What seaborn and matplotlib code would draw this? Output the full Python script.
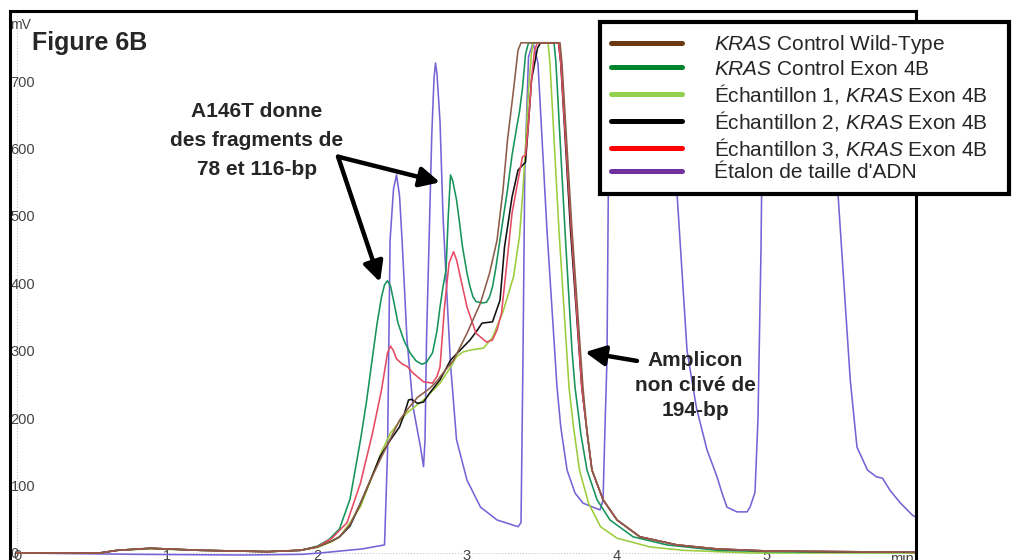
import matplotlib
matplotlib.use("Agg")
import matplotlib.pyplot as plt
from matplotlib.lines import Line2D
import seaborn as sns
import pandas as pd

# Chromatogram traces (time in min, signal in mV)
t_wt = [0.0, 0.55, 0.67, 0.89, 1.22, 1.67, 1.89, 2.0, 2.1, 2.15, 2.22, 2.29, 2.35, 2.42, 2.49,
        2.55, 2.61, 2.67, 2.75, 2.8, 2.84, 2.91, 3.0, 3.09, 3.15, 3.2, 3.24, 3.27, 3.31, 3.34,
        3.36, 3.62, 3.633, 3.7, 3.773, 3.8, 3.833, 3.907, 4.0, 4.153, 4.4, 4.667, 5.0, 5.5, 6.0]
v_wt = [0, 0, 4, 7, 4, 2, 4, 9, 18, 24, 42, 74, 105, 138, 170,
        197, 215, 231, 244, 255, 267, 286, 326, 371, 415, 464, 539, 613, 687, 746,
        757, 757, 727, 479, 246, 180, 123, 79, 49, 24, 12, 6, 3, 2, 1]

t_ex = [0.0, 0.55, 0.67, 0.89, 1.22, 1.67, 1.89, 2.0, 2.08, 2.15, 2.22, 2.29, 2.33, 2.37, 2.4,
        2.43, 2.45, 2.47, 2.49, 2.51, 2.54, 2.58, 2.62, 2.66, 2.7, 2.73, 2.77, 2.8, 2.82, 2.84,
        2.86, 2.875, 2.89, 2.905, 2.93, 2.95, 2.97, 3.0, 3.02, 3.04, 3.06, 3.1, 3.13, 3.15, 3.17,
        3.19, 3.21, 3.24, 3.27, 3.3, 3.33, 3.35, 3.37, 3.39, 3.41, 3.58, 3.593, 3.653, 3.7, 3.72,
        3.76, 3.8, 3.867, 3.953, 4.107, 4.333, 4.667, 5.0, 5.5, 6.0]
v_ex = [0, 0, 4, 7, 4, 2, 4, 10, 20, 36, 80, 168, 225, 291, 340,
        380, 398, 404, 396, 375, 341, 315, 297, 285, 280, 283, 297, 330, 365, 395,
        420, 500, 561, 552, 524, 490, 454, 415, 395, 380, 373, 371, 372, 380, 395,
        420, 450, 495, 539, 590, 630, 655, 690, 740, 757, 757, 727, 479, 300, 246,
        175, 123, 79, 49, 24, 12, 4, 2, 1, 1]

t_s1 = [0.0, 0.55, 0.67, 0.89, 1.22, 1.67, 1.89, 2.0, 2.1, 2.15, 2.22, 2.29, 2.37, 2.43, 2.49,
        2.55, 2.6, 2.71, 2.82, 2.88, 2.93, 2.97, 3.02, 3.11, 3.17, 3.24, 3.29, 3.31, 3.35, 3.37,
        3.39, 3.41, 3.43, 3.44, 3.54, 3.553, 3.613, 3.68, 3.71, 3.75, 3.81, 3.89, 4.0, 4.22, 4.44,
        4.89, 5.5, 6.0]
v_s1 = [0, 0, 4, 6, 4, 2, 4, 8, 17, 24, 45, 69, 115, 150, 178,
        195, 208, 227, 252, 272, 291, 298, 301, 304, 320, 358, 395, 410, 470, 530,
        600, 687, 742, 757, 757, 727, 479, 246, 187, 123, 74, 39, 22, 9, 4,
        0, 0, 0]

t_s2 = [0.0, 0.55, 0.67, 0.89, 1.22, 1.67, 1.89, 2.0, 2.1, 2.15, 2.22, 2.29, 2.35, 2.42, 2.49,
        2.55, 2.58, 2.61, 2.63, 2.67, 2.71, 2.75, 2.82, 2.89, 2.95, 3.02, 3.07, 3.1, 3.17, 3.22,
        3.25, 3.3, 3.34, 3.39, 3.41, 3.43, 3.47, 3.49, 3.61, 3.625, 3.69, 3.765, 3.8, 3.833, 3.907,
        4.0, 4.153, 4.4, 4.667, 5.0, 5.5, 6.0]
v_s2 = [0, 0, 4, 7, 4, 2, 4, 9, 18, 24, 40, 74, 105, 143, 168,
        187, 205, 227, 228, 222, 224, 237, 257, 286, 300, 316, 331, 341, 343, 375,
        454, 528, 568, 580, 638, 702, 749, 757, 757, 727, 479, 246, 180, 123, 79,
        49, 24, 12, 6, 3, 2, 1]

t_s3 = [0.0, 0.55, 0.67, 0.89, 1.22, 1.67, 1.89, 2.0, 2.1, 2.2, 2.29, 2.37, 2.43, 2.47, 2.49,
        2.51, 2.53, 2.57, 2.6, 2.64, 2.71, 2.77, 2.8, 2.82, 2.85, 2.88, 2.91, 2.93, 2.95, 3.0,
        3.06, 3.13, 3.17, 3.2, 3.23, 3.27, 3.3, 3.34, 3.37, 3.39, 3.41, 3.43, 3.45, 3.47, 3.61,
        3.625, 3.695, 3.765, 3.8, 3.833, 3.907, 4.0, 4.153, 4.4, 4.667, 5.0, 5.5, 6.0]
v_s3 = [0, 0, 4, 7, 4, 2, 4, 9, 22, 45, 104, 178, 242, 297, 307,
        300, 288, 280, 277, 267, 254, 252, 262, 276, 365, 430, 447, 435, 415, 365,
        326, 313, 316, 331, 356, 439, 504, 553, 588, 590, 638, 702, 746, 757, 757,
        727, 479, 246, 180, 123, 79, 49, 24, 12, 6, 3, 2, 1]

t_std = [0.0, 0.8, 1.5, 1.9, 2.02, 2.3, 2.45, 2.47, 2.487, 2.51, 2.53, 2.55, 2.567, 2.6, 2.64,
         2.69, 2.71, 2.72, 2.73, 2.747, 2.765, 2.78, 2.79, 2.8, 2.82, 2.84, 2.87, 2.89, 2.93, 3.0,
         3.09, 3.2, 3.34, 3.36, 3.373, 3.385, 3.41, 3.44, 3.473, 3.533, 3.6, 3.625, 3.667, 3.72, 3.773,
         3.84, 3.887, 3.907, 3.92, 3.933, 3.95, 4.34, 4.4, 4.467, 4.53, 4.6, 4.667, 4.7, 4.733, 4.8,
         4.867, 4.887, 4.92, 4.94, 4.96, 4.975, 5.42, 5.473, 5.555, 5.6, 5.67, 5.73, 5.77, 5.82, 5.89,
         5.97, 6.0]
v_std = [0, -2, -3, -2, 0, 6, 12, 150, 464, 540, 561, 530, 464, 316, 217,
         157, 128, 168, 316, 464, 620, 705, 727, 710, 640, 500, 365, 280, 168, 108,
         68, 49, 39, 45, 286, 564, 736, 757, 727, 479, 246, 187, 123, 89, 74,
         68, 64, 79, 187, 286, 757, 757, 534, 300, 215, 153, 113, 89, 68, 61,
         61, 68, 90, 200, 450, 757, 757, 534, 257, 157, 123, 113, 111, 93, 74,
         56, 52]

labels = ["$\\it{KRAS}$ Control Wild-Type",
          "$\\it{KRAS}$ Control Exon 4B",
          "Échantillon 1, $\\it{KRAS}$ Exon 4B",
          "Échantillon 2, $\\it{KRAS}$ Exon 4B",
          "Échantillon 3, $\\it{KRAS}$ Exon 4B",
          "Étalon de taille d'ADN"]
series = [(t_wt, v_wt), (t_ex, v_ex), (t_s1, v_s1), (t_s2, v_s2), (t_s3, v_s3), (t_std, v_std)]
legend_colors = ["#6b3a10", "#00852c", "#92d050", "#000000", "#ff0000", "#7030a0"]
line_colors = ["#8d5c48", "#16935a", "#9ccc3c", "#111111", "#e64a62", "#7464d6"]

frames = []
for name, (t, v) in zip(labels, series):
    frames.append(pd.DataFrame({"time": t, "signal": v, "trace": name}))
df = pd.concat(frames, ignore_index=True)

sns.set_style("white")
plt.rcParams["font.family"] = ["Liberation Sans", "DejaVu Sans"]
plt.rcParams["mathtext.fontset"] = "custom"
plt.rcParams["mathtext.rm"] = "Liberation Sans"
plt.rcParams["mathtext.it"] = "Liberation Sans:italic"

fig = plt.figure(figsize=(10.13, 5.6), dpi=100)
ax = fig.add_axes([0.00958, -0.0357, 0.8946, 1.0166])

draw_order = [labels[5], labels[2], labels[1], labels[3], labels[4], labels[0]]
sns.lineplot(data=df, x="time", y="signal", hue="trace", hue_order=draw_order,
             palette=dict(zip(labels, line_colors)), estimator=None, sort=False,
             legend=False, linewidth=1.15, ax=ax)

ax.axvline(0, color="#c8c8c8", lw=0.8, ls=":", zorder=0)
ax.axhline(0, color="#c8c8c8", lw=0.8, ls=":", zorder=0)

ax.set_xlim(-0.049, 5.993)
ax.set_ylim(-40.06, 804.6)
ax.set_xlabel("")
ax.set_ylabel("")
ax.set_yticks(range(0, 800, 100))
ax.set_xticks(range(0, 6))
ax.tick_params(axis="y", length=0, pad=-0.6, labelsize=10.5, labelcolor="#444444")
ax.tick_params(axis="x", length=0, pad=-22.5, labelsize=10.5, labelcolor="#444444")
plt.setp(ax.get_yticklabels(), ha="left")
for s in ax.spines.values():
    s.set_color("black")
    s.set_linewidth(2.2)

fig.text(10 / 1013, 1 - 18 / 560, "mV", fontsize=10, color="#444444", ha="left", va="top")
ax.annotate("min", xy=(1, 0), xycoords=("axes fraction", "data"), xytext=(-2, 1),
            textcoords="offset pixels", ha="right", va="top", fontsize=10.5, color="#444444")
fig.text(32 / 1013, 1 - 50 / 560, "Figure 6B", fontsize=18, fontweight="bold", va="baseline")

arrow = dict(arrowstyle="-|>,head_length=0.6,head_width=0.3", color="black", lw=3.2,
             mutation_scale=20, shrinkA=0, shrinkB=0)
ax.text(1.6, 612, "A146T donne\ndes fragments de\n78 et 116-bp", ha="center", va="center",
        fontsize=15, fontweight="bold", linespacing=1.65)
ax.annotate("", xy=(2.82, 550), xytext=(2.14, 588), arrowprops=arrow)
ax.annotate("", xy=(2.42, 402), xytext=(2.14, 588), arrowprops=arrow)
ax.text(4.52, 249, "Amplicon\nnon clivé de\n194-bp", ha="center", va="center",
        fontsize=15, fontweight="bold", linespacing=1.4)
ax.annotate("", xy=(3.787, 298), xytext=(4.133, 285), arrowprops=arrow)

handles = [Line2D([0], [0], color=c, lw=3.6) for c in legend_colors]
leg = fig.legend(handles, labels, loc="upper left",
                 bbox_to_anchor=(600 / 1013, 1 - 22 / 560, 409 / 1013, 0), mode="expand",
                 fontsize=15, frameon=True, fancybox=False, edgecolor="black", framealpha=1,
                 borderpad=0.55, labelspacing=0.15, handlelength=3.4, handletextpad=1.5,
                 borderaxespad=0)
leg.get_frame().set_linewidth(3)

fig.savefig("out.png", dpi=100)
